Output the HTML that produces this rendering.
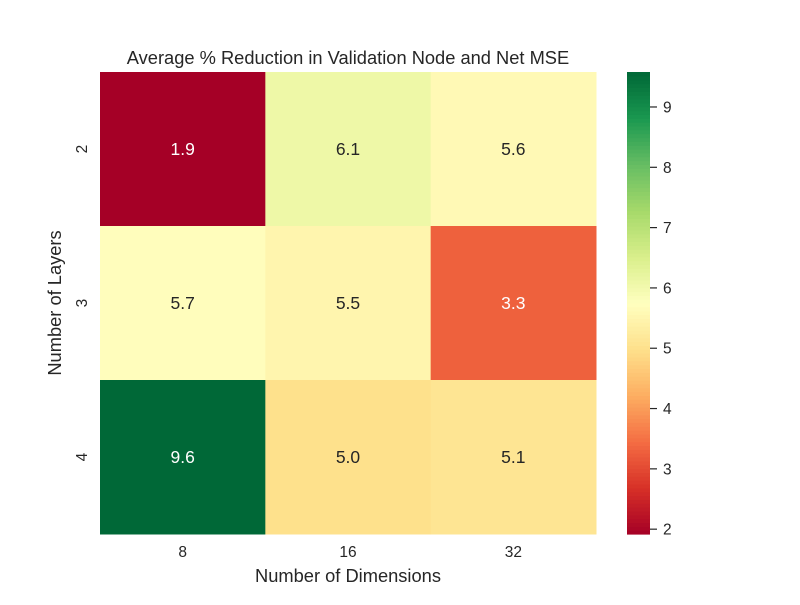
<!DOCTYPE html>
<html><head><meta charset="utf-8"><style>
body{margin:0;background:#fff;}
svg text{font-family:"Liberation Sans","DejaVu Sans",sans-serif;fill:#262626;}
</style></head><body>
<svg id="chart" width="800" height="600" xmlns="http://www.w3.org/2000/svg">
<rect width="800" height="600" fill="#fff"/>
<text x="348" y="64" font-size="18.3" text-anchor="middle">Average % Reduction in Validation Node and Net MSE</text>
<text x="348" y="582" font-size="18.3" text-anchor="middle">Number of Dimensions</text>
<text transform="translate(61,303) rotate(-90)" font-size="18.3" text-anchor="middle">Number of Layers</text>
<g id="cells"></g>
<g id="cbar"></g>
</svg>
<script>
const xCategories = ["8","16","32"];
const yCategories = ["2","3","4"];
const values = [
  [1.92, 6.1, 5.6],
  [5.7, 5.5, 3.3],
  [9.58, 5.0, 5.1]
];
const cbarTicks = [2,3,4,5,6,7,8,9];
const vmin = 1.92, vmax = 9.58;

const NS="http://www.w3.org/2000/svg";
const L=100,R=596,T=72,B=534;
const cw=(R-L)/xCategories.length, ch=(B-T)/yCategories.length;
const stops=["a50026","d73027","f46d43","fdae61","fee08b","ffffbf","d9ef8b","a6d96a","66bd63","1a9850","006837"].map(h=>[parseInt(h.slice(0,2),16),parseInt(h.slice(2,4),16),parseInt(h.slice(4,6),16)]);
function cmap(t){t=Math.max(0,Math.min(1,t));const p=t*10;const i=Math.min(9,Math.floor(p));const f=p-i;
  return stops[i].map((c,k)=>Math.round(c+(stops[i+1][k]-c)*f));}
function lum(c){const l=c.map(v=>{v/=255;return v<=0.03928?v/12.92:Math.pow((v+0.055)/1.055,2.4)});return 0.2126*l[0]+0.7152*l[1]+0.0722*l[2];}
function el(tag,attrs,parent){const e=document.createElementNS(NS,tag);for(const k in attrs)e.setAttribute(k,attrs[k]);parent.appendChild(e);return e;}
const xScale=i=>L+i*cw, yScale=j=>T+j*ch;
const cells=document.getElementById('cells');
values.forEach((row,j)=>row.forEach((v,i)=>{
  const c=cmap((v-vmin)/(vmax-vmin));
  const r=el('rect',{x:xScale(i),y:yScale(j),width:cw+0.5,height:ch+0.5,fill:`rgb(${c})`},cells);
  
  
  const t=el('text',{x:xScale(i)+cw/2,y:yScale(j)+ch/2+6,'font-size':17.5,'text-anchor':'middle'},cells);
  
  
  t.style.fill=lum(c)>0.408?'#262626':'#ffffff';
  t.textContent=v.toFixed(1);
}));
xCategories.forEach((s,i)=>{const t=el('text',{x:xScale(i)+cw/2,y:557,'font-size':15.5,'text-anchor':'middle'},cells);
  
  
  t.textContent=s;});
yCategories.forEach((s,j)=>{const y=yScale(j)+ch/2;const t=el('text',{x:0,y:0,'font-size':15.5,'text-anchor':'middle',transform:`translate(87,${y}) rotate(-90)`},cells);
  
  
  t.textContent=s;});
const cb=document.getElementById('cbar');
const CL=627,CR=650;
const cy=v=>B-(v-vmin)/(vmax-vmin)*(B-T);
const N=120;
for(let k=0;k<N;k++){const v0=vmin+(vmax-vmin)*k/N;const c=cmap((k+0.5)/N);
  const r=el('rect',{x:CL,y:cy(v0+(vmax-vmin)/N),width:CR-CL,height:(B-T)/N+0.6,fill:`rgb(${c})`},cb);
  
  }
cbarTicks.forEach(v=>{const y=cy(v);
  const ln=el('line',{x1:CR,x2:CR+7,y1:y,y2:y,stroke:'#262626','stroke-width':1.2},cb);
  
  
  const t=el('text',{x:CR+13,y:y+5.5,'font-size':15.5},cb);
  
  
  t.textContent=v;});
</script>
</body></html>
